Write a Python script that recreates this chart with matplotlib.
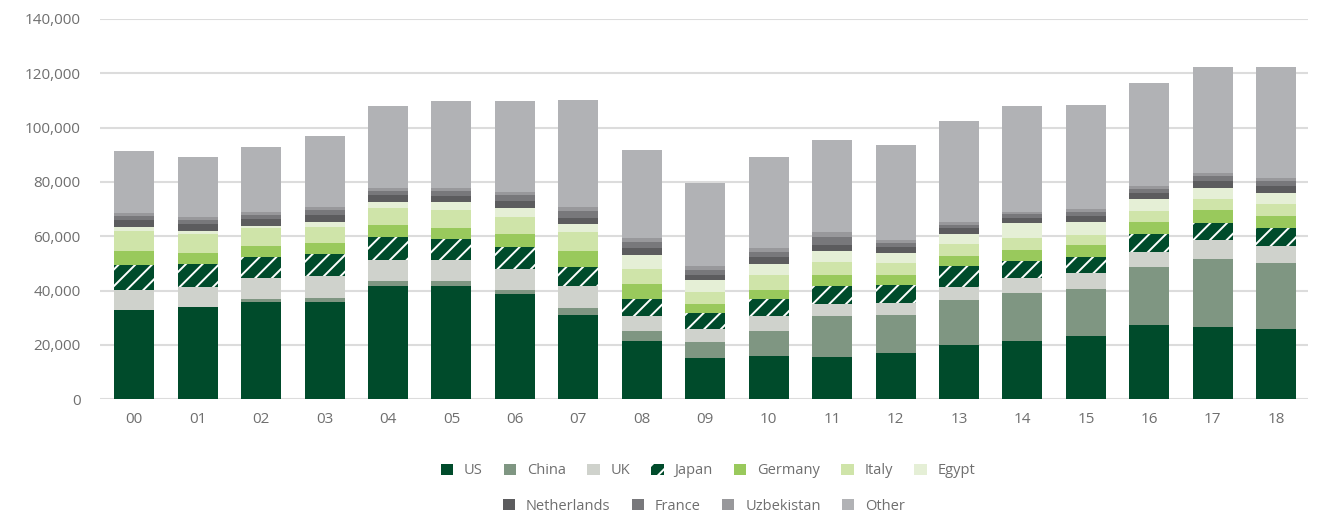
import matplotlib

matplotlib.use("Agg")
import matplotlib.pyplot as plt
import numpy as np
from matplotlib.patches import Patch

# values in thousands
years = ["00", "01", "02", "03", "04", "05", "06", "07", "08", "09",
         "10", "11", "12", "13", "14", "15", "16", "17", "18"]
us = [32.8, 34.0, 35.6, 35.9, 41.6, 41.6, 38.6, 31.0, 21.4, 15.0,
      15.8, 15.6, 16.8, 19.9, 21.4, 23.2, 27.3, 26.6, 25.7]
china = [0.0, 0.0, 1.1, 1.2, 1.9, 1.9, 1.6, 2.6, 3.8, 6.1,
         9.4, 15.0, 14.1, 16.6, 17.5, 17.2, 21.2, 24.9, 24.5]
uk = [7.4, 7.4, 7.8, 8.2, 7.7, 7.7, 7.7, 8.1, 5.4, 4.9,
      5.4, 4.4, 4.6, 4.9, 5.6, 6.1, 5.8, 7.1, 6.2]
japan = [9.2, 8.3, 7.7, 8.1, 8.6, 7.8, 8.2, 6.8, 6.1, 5.6,
         6.1, 6.6, 6.5, 7.6, 6.3, 5.9, 6.5, 6.1, 6.5]
germany = [5.2, 4.0, 4.2, 4.2, 4.3, 4.1, 4.6, 6.0, 5.7, 3.3,
           3.5, 4.1, 3.7, 3.7, 4.1, 4.3, 4.5, 4.9, 4.5]
italy = [7.4, 7.1, 6.5, 5.9, 6.2, 6.5, 6.5, 7.1, 5.4, 4.6,
         5.5, 4.9, 4.3, 4.4, 4.3, 3.7, 4.1, 4.0, 4.5]
egypt = [1.3, 1.1, 0.8, 1.8, 2.2, 2.9, 3.1, 2.8, 5.3, 4.3,
         4.0, 4.0, 3.7, 3.7, 5.5, 5.0, 4.2, 4.3, 3.9]
netherlands = [2.7, 2.6, 2.5, 2.5, 2.7, 2.4, 2.7, 2.4, 2.4, 1.9,
               2.5, 2.1, 2.4, 2.1, 1.9, 2.1, 2.4, 2.5, 2.7]
france = [1.5, 1.5, 1.7, 1.7, 1.6, 1.8, 2.0, 2.5, 2.2, 2.0,
          2.0, 2.9, 1.5, 1.4, 1.4, 1.5, 1.5, 1.7, 1.7]
uzbekistan = [0.9, 0.9, 1.1, 1.1, 1.1, 1.2, 1.4, 1.6, 1.5, 1.3,
              1.3, 2.0, 1.0, 1.0, 1.0, 1.0, 1.0, 1.1, 1.1]
other = [23.1, 22.1, 23.7, 26.3, 30.2, 31.9, 33.4, 39.3, 32.5, 30.5,
         33.8, 33.8, 35.0, 37.2, 39.0, 38.4, 38.0, 39.0, 40.9]

SERIES = [
  ("US", us, "#004b2b", None),
  ("China", china, "#7f9682", None),
  ("UK", uk, "#cfd2cc", None),
  ("Japan", japan, "#004b2b", "//"),
  ("Germany", germany, "#99c95c", None),
  ("Italy", italy, "#cfe4a9", None),
  ("Egypt", egypt, "#e5efd6", None),
  ("Netherlands", netherlands, "#5c5c5e", None),
  ("France", france, "#78787b", None),
  ("Uzbekistan", uzbekistan, "#98989b", None),
  ("Other", other, "#b1b2b5", None),
]

plt.rcParams["font.family"] = ["Open Sans", "DejaVu Sans"]
plt.rcParams["hatch.linewidth"] = 1.4
TEXT = "#6f6f6f"

fig = plt.figure(figsize=(13.28, 5.13), dpi=100)
ax = fig.add_axes([0.0753, 0.222, 0.9096, 0.741])

x = np.arange(len(years))
bottom = np.zeros(len(years))
handles = []
for name, vals, color, hatch in SERIES:
  v = np.array(vals) * 1000
  if hatch:
    ax.bar(x, v, 0.63, bottom=bottom, color=color, edgecolor="white",
           hatch=hatch, linewidth=0, zorder=3)
    handles.append(Patch(facecolor=color, edgecolor="white", hatch="//", linewidth=0))
  else:
    ax.bar(x, v, 0.63, bottom=bottom, color=color, linewidth=0, zorder=3)
    handles.append(Patch(facecolor=color, linewidth=0))
  bottom += v

ax.set_xlim(-0.54, len(years) - 0.5)
ax.set_ylim(0, 140000)
ax.set_yticks(np.arange(0, 140001, 20000))
ax.set_yticklabels([f"{t:,}" for t in range(0, 140001, 20000)])
ax.set_xticks(x)
ax.set_xticklabels(years)
ax.tick_params(length=0, colors=TEXT, labelsize=11)
ax.tick_params(axis="y", pad=14)
ax.tick_params(axis="x", pad=9)
for s in ax.spines.values():
  s.set_visible(False)
ax.set_axisbelow(True)
ax.yaxis.grid(True, color="#dcdcdc", linewidth=1.5)

names = [s[0] for s in SERIES]
leg_kw = dict(frameon=False, fontsize=10.5, handlelength=0.85, handleheight=0.85,
              handletextpad=0.75, columnspacing=1.45, labelcolor=TEXT,
              loc="center", bbox_transform=fig.transFigure)
leg1 = ax.legend(handles[:7], names[:7], ncol=7,
                 bbox_to_anchor=(708 / 1328, 1 - 471 / 513), **leg_kw)
ax.add_artist(leg1)
ax.legend(handles[7:], names[7:], ncol=4,
          bbox_to_anchor=(704 / 1328, 1 - 506 / 513), **leg_kw)

fig.savefig("out.png", dpi=100)
